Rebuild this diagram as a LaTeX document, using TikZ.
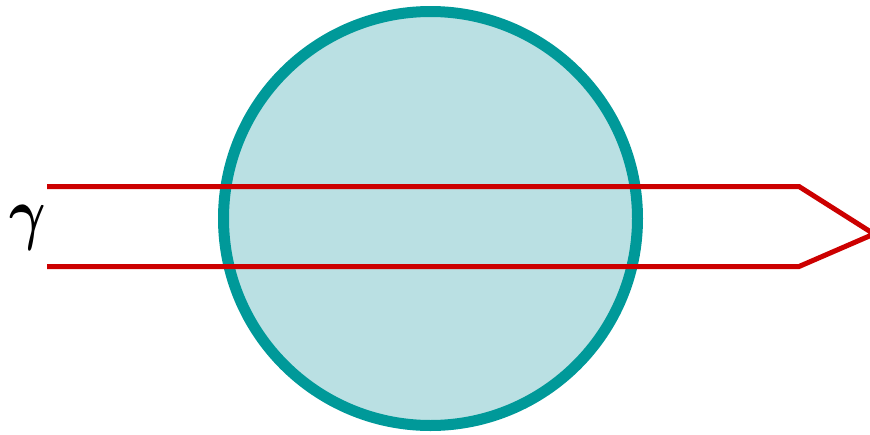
\documentclass[tikz,border=0pt]{standalone}
\usepackage{amsmath}
\usepackage{fontspec}
\setmainfont{Liberation Serif}
\definecolor{rim}{HTML}{009999}
\definecolor{fillc}{HTML}{BAE0E3}
\definecolor{beam}{HTML}{CC0000}
\begin{document}
\begin{tikzpicture}[x=1pt,y=-1pt,
  beamline/.style={draw=beam,line width=5pt,line join=miter}]
\useasboundingbox (0,0) rectangle (870,434);
\clip (0,0) rectangle (870,434);
\node[circle,draw=rim,fill=fillc,line width=11pt,minimum size=414pt,inner sep=0pt] (ball) at (430.5,218.5) {};
\coordinate (a1) at (47,186.5);
\coordinate (a2) at (799,186.5);
\coordinate (tip) at (874,234);
\coordinate (b2) at (799,266.5);
\coordinate (b1) at (47,266.5);
\draw[beamline] (a1) -- (a2) -- (tip) -- (b2) -- (b1);
\node[inner sep=0pt] (gamma) at (28,228) {\scalebox{5.6}[7.0]{$\boldsymbol{\gamma}$}};
\end{tikzpicture}
\end{document}
